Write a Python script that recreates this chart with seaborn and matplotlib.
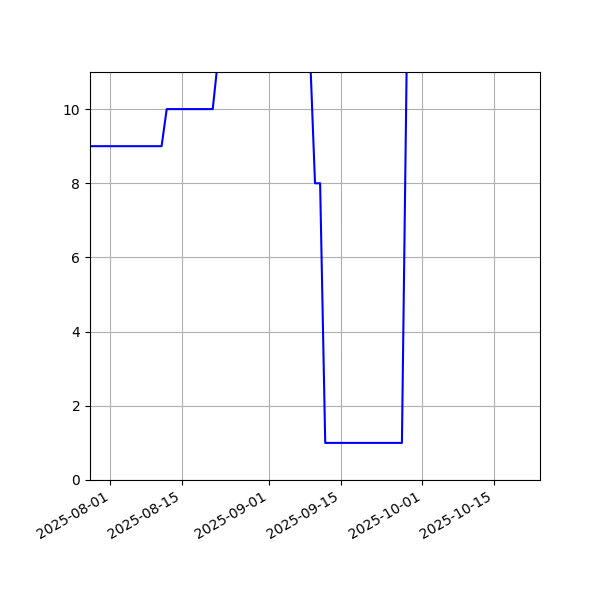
import numpy as np
import pandas as pd
import matplotlib
matplotlib.use('Agg')
import matplotlib.pyplot as plt
import matplotlib.dates as mdates
import seaborn as sns

# observed series (values above 11 run off the top of the axes)
dates = ['2025-07-28', '2025-08-11', '2025-08-12', '2025-08-21', '2025-08-22',
         '2025-08-26', '2025-09-01', '2025-09-05', '2025-09-09', '2025-09-10',
         '2025-09-11', '2025-09-12', '2025-09-27', '2025-09-28', '2025-10-03']
values = [9, 9, 10, 10, 11.3, 14, 15, 13, 11.6, 8, 8, 1, 1, 12, 13]

df = pd.DataFrame({'date': pd.to_datetime(dates), 'value': values})

fig, ax = plt.subplots(figsize=(6, 6), dpi=100)
sns.lineplot(data=df, x='date', y='value', color='blue', linewidth=1.5, ax=ax)

ax.set_xlim(pd.Timestamp('2025-07-28'), pd.Timestamp('2025-10-24'))
ax.set_ylim(0, 11)
ax.xaxis.set_major_locator(mdates.DayLocator(bymonthday=[1, 15]))
ax.xaxis.set_major_formatter(mdates.DateFormatter('%Y-%m-%d'))
ax.set_xlabel('')
ax.set_ylabel('')
ax.grid(True)
fig.autofmt_xdate()
fig.subplots_adjust(left=0.15, right=0.9, top=0.88, bottom=0.2)
plt.savefig('out.png')
plt.close()
